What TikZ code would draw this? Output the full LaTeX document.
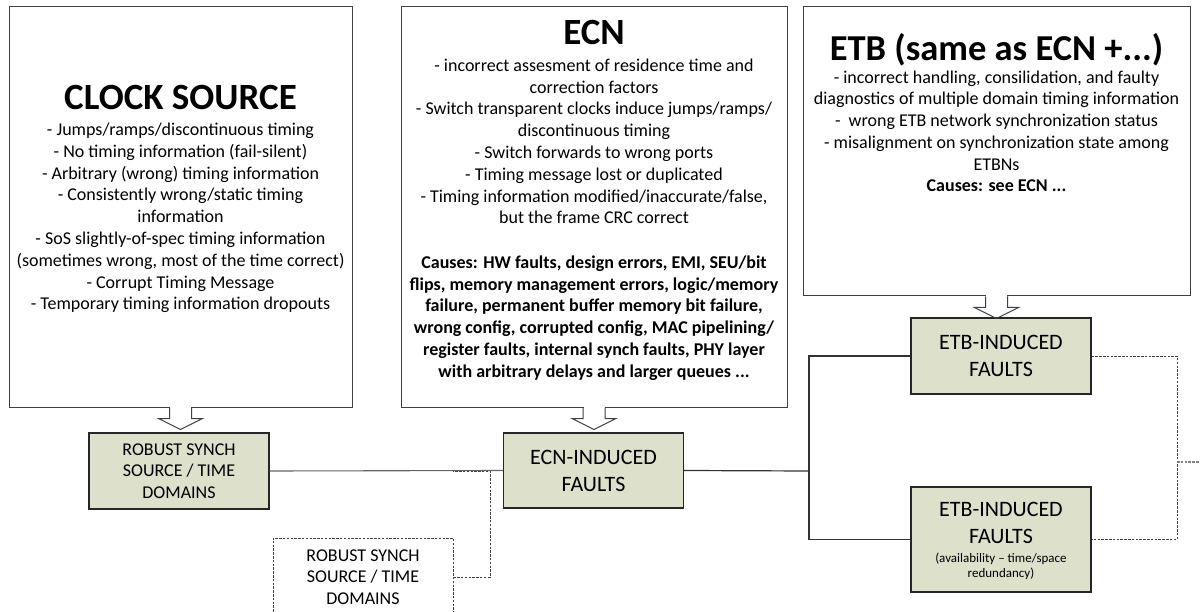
\documentclass[tikz,border=0pt]{standalone}
\usepackage{fontspec}
\setmainfont{Carlito}
\usetikzlibrary{calc}

\definecolor{boxgreen}{RGB}{221,224,203}
\definecolor{edge}{RGB}{64,64,64}
\definecolor{wire}{RGB}{100,100,100}

\tikzset{
  panel/.style={draw=edge, line width=1pt, fill=white, inner sep=0pt},
  heading/.style={inner sep=0pt, font=\fontsize{37}{44}\selectfont\bfseries},
  bodytext/.style={inner sep=0pt, align=center, font=\fontsize{18}{21.8}\selectfont},
  causetext/.style={inner sep=0pt, align=center, font=\fontsize{18}{21.8}\selectfont\bfseries},
  faultbox/.style={draw=black!85, line width=1.2pt, fill=boxgreen, minimum width=180pt,
    inner sep=0pt, align=center, font=\fontsize{22}{27}\selectfont},
  robustbox/.style={draw=black!85, line width=1.2pt, fill=boxgreen, minimum width=180pt,
    minimum height=76pt, inner sep=0pt, align=center, font=\fontsize{18}{21.5}\selectfont},
  spareslot/.style={draw=black!75, line width=0.7pt, dash pattern=on 2.5pt off 1.3pt,
    minimum width=180pt, minimum height=78pt, inner sep=0pt, align=center,
    font=\fontsize{18}{21.5}\selectfont},
  notetext/.style={inner sep=0pt, align=center, font=\fontsize{13}{15.5}\selectfont},
  link/.style={draw=black!80, line width=1.2pt},
  greylink/.style={draw=wire, line width=1.1pt},
  dashlink/.style={draw=black!75, line width=0.8pt, dash pattern=on 2.5pt off 1.3pt},
  greydash/.style={draw=black!50, line width=1.1pt, dash pattern=on 2.5pt off 1.3pt},
  feed/.style={draw=edge, line width=1pt, line join=miter}
}

% hollow block arrow from the bottom of a text panel towards a fault box
\newcommand\feedarrow[2]{%
  \fill[white] ($(#1.south)+(-10.5,-1.5)$) rectangle ($(#1.south)+(10.5,11)$);
  \draw[feed] ($(#1.south)+(-11,0)$) -- ++(0,11) -- ++(-11,0)
    -- ($(#1.south)!22pt!(#1.south |- #2.north)$)
    -- ($(#1.south)+(22,11)$) -- ++(-11,0) -- ++(0,-11);
}

\begin{document}
\begin{tikzpicture}[x=1pt,y=-1pt]
\useasboundingbox (0,0) rectangle (1200,612);

% ---------- text panels ----------
\node[panel, minimum width=343pt, minimum height=400pt] (clock) at (180.5,207) {};
\node[heading] (clockhead) at (180.5,98) {CLOCK SOURCE};
\node[bodytext] (clockbody) at (180.5,218) {- Jumps/ramps/discontinuous timing\\
- No timing information (fail-silent)\\
- Arbitrary (wrong) timing information\\
- Consistently wrong/static timing\\
information\\
- SoS slightly-of-spec timing information\\
(sometimes wrong, most of the time correct)\\
- Corrupt Timing Message\\
- Temporary timing information dropouts};

\node[panel, minimum width=386pt, minimum height=400pt] (ecn) at (594,207) {};
\node[heading] (ecnhead) at (594,32) {ECN};
\node[bodytext] (ecnbody) at (594,141.5) {- incorrect assesment of residence time and\\
correction factors\\
- Switch transparent clocks induce jumps/ramps/\\
discontinuous timing\\
- Switch forwards to wrong ports\\
- Timing message lost or duplicated\\
- Timing information modified/inaccurate/false,\\
but the frame CRC correct};
\node[causetext] (ecncauses) at (594,318) {Causes: HW faults, design errors, EMI, SEU/bit\\
flips, memory management errors, logic/memory\\
failure, permanent buffer memory bit failure,\\
wrong config, corrupted config, MAC pipelining/\\
register faults, internal synch faults, PHY layer\\
with arbitrary delays and larger queues ...};

\node[panel, minimum width=387pt, minimum height=289pt] (etb) at (996.5,151.5) {};
\node[heading, font=\fontsize{36.5}{44}\selectfont\bfseries] (etbhead) at (996.5,49.5) {ETB (same as ECN +...)};
\node[bodytext] (etbbody) at (996.5,120.5) {- incorrect handling, consilidation, and faulty\\
diagnostics of multiple domain timing information\\
- \ wrong ETB network synchronization status\\
- misalignment on synchronization state among\\
ETBNs};
\node[causetext] (etbcauses) at (996.5,186) {Causes: see ECN ...};

% ---------- fault boxes ----------
\node[robustbox] (robust) at (179,471) {ROBUST SYNCH\\SOURCE / TIME\\DOMAINS};
\node[spareslot] (spare) at (363,577) {ROBUST SYNCH\\SOURCE / TIME\\DOMAINS};
\node[faultbox, minimum height=75pt] (ecnf) at (593.5,470.5) {ECN-INDUCED\\FAULTS};
\node[faultbox, minimum height=76pt] (etbtop) at (1001,356) {ETB-INDUCED\\FAULTS};
\node[faultbox, minimum height=105pt] (etbbot) at (1001,539.5) {};
\node[inner sep=0pt, align=center, font=\fontsize{22}{27}\selectfont] (etbbottxt) at (1001,523) {ETB-INDUCED\\FAULTS};
\node[notetext] (etbbotnote) at (1001,566.5) {(availability -- time/space\\redundancy)};

% ---------- block arrows ----------
\feedarrow{clock}{robust}
\feedarrow{ecn}{ecnf}
\feedarrow{etb}{etbtop}

% ---------- connectors ----------
\coordinate (tap) at (490,471);
\coordinate (tapend) at (453,471);
\coordinate (split) at (809,471);
\coordinate (merge) at (1177,462);
\coordinate (offpage) at (1203,462);

\draw[greylink] (robust.east) -- (ecnf.west);
\draw[dashlink] (spare.east) -| (tap) -- (tapend);
\draw[link] (ecnf.east) -- (split);
\draw[link] (etbtop.west) -| (split) |- (etbbot.west);
\draw[dashlink] (etbtop.east) -| (merge) |- (etbbot.east);
\draw[greydash] (merge) -- (offpage);
\end{tikzpicture}
\end{document}
